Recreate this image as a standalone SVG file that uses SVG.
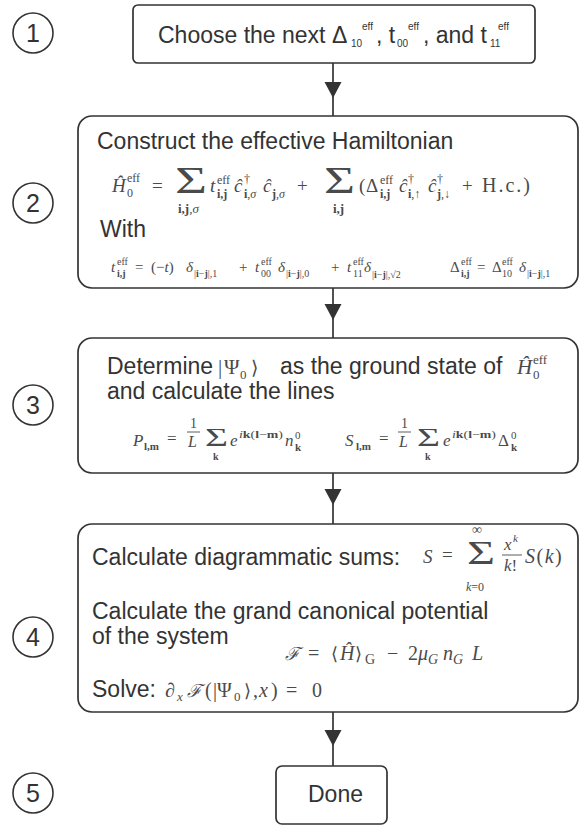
<svg xmlns="http://www.w3.org/2000/svg" width="582" height="826" viewBox="0 0 582 826">
<style>
.box{fill:#fff;stroke:#333;stroke-width:1.7}
.circ{fill:none;stroke:#333;stroke-width:1.6}
.num{font-family:"Liberation Sans",Arial,sans-serif;font-size:25px;fill:#333;text-anchor:middle}
.t{font-family:"Liberation Sans",Arial,sans-serif;font-size:23px;fill:#333}
.ts{font-family:"Liberation Sans",Arial,sans-serif;fill:#333}
.m{font-family:"Liberation Serif","Times New Roman",serif;fill:#4a4a4a}
.i{font-style:italic}
.b{font-weight:bold}
.con{stroke:#333;stroke-width:1.7;fill:none}
.ah{fill:#333}
.bar{stroke:#4a4a4a;stroke-width:0.9}
</style>
<defs>
<path id="arrow" class="ah" d="M-8.5,-16 L8.5,-16 L0,0 Z"/>
</defs>

<g id="connectors">
<line class="con" x1="333" y1="63" x2="333" y2="116"/>
<use href="#arrow" x="333" y="98"/>
<line class="con" x1="333" y1="288" x2="333" y2="338"/>
<use href="#arrow" x="333" y="320"/>
<line class="con" x1="333" y1="473" x2="333" y2="524"/>
<use href="#arrow" x="333" y="505"/>
<line class="con" x1="333" y1="712" x2="333" y2="766"/>
<use href="#arrow" x="333" y="746"/>
</g>

<g id="step-labels">
<circle class="circ" cx="33" cy="33" r="20"/><text class="num" x="33" y="42">1</text>
<circle class="circ" cx="33" cy="203" r="20"/><text class="num" x="33" y="212">2</text>
<circle class="circ" cx="33" cy="405" r="20"/><text class="num" x="33" y="414">3</text>
<circle class="circ" cx="33" cy="637" r="20"/><text class="num" x="33" y="646">4</text>
<circle class="circ" cx="33" cy="793" r="20"/><text class="num" x="33" y="802">5</text>
</g>

<g id="node1">
<rect class="box" x="133" y="5" width="402" height="58" rx="5"/>
<text class="t" x="158" y="43">Choose the next Δ</text>
<text class="ts" x="351" y="47" font-size="10">10</text>
<text class="ts" x="362" y="30" font-size="10">eff</text>
<text class="t" x="376" y="43">, t</text>
<text class="ts" x="397" y="47" font-size="10">00</text>
<text class="ts" x="408" y="30" font-size="10">eff</text>
<text class="t" x="423" y="43">, and t</text>
<text class="ts" x="490" y="47" font-size="10">11</text>
<text class="ts" x="498" y="30" font-size="10">eff</text>
</g>

<g id="node2">
<rect class="box" x="78" y="116" width="500" height="172" rx="14"/>
<text class="t" x="97" y="149">Construct the effective Hamiltonian</text>
<g class="m" font-size="19">
<text class="i" x="112" y="192">Ĥ</text>
<text x="127" y="197" font-size="12">0</text>
<text x="127" y="182" font-size="12">eff</text>
<text x="152" y="192">=</text>
<text x="175" y="193" font-size="37" textLength="32" lengthAdjust="spacingAndGlyphs">Σ</text>
<text x="178" y="213" font-size="13"><tspan class="b">i,j</tspan>,<tspan class="i">σ</tspan></text>
<text class="i" x="210" y="192">t</text>
<text x="217" y="184" font-size="12">eff</text>
<text class="b" x="217" y="198" font-size="12">i,j</text>
<text class="i" x="234" y="192">ĉ</text>
<text x="244" y="183" font-size="12">†</text>
<text x="244" y="198" font-size="12"><tspan class="b">i</tspan>,<tspan class="i">σ</tspan></text>
<text class="i" x="263" y="192">ĉ</text>
<text x="272" y="198" font-size="12"><tspan class="b">j</tspan>,<tspan class="i">σ</tspan></text>
<text x="297" y="192">+</text>
<text x="324" y="193" font-size="37" textLength="31" lengthAdjust="spacingAndGlyphs">Σ</text>
<text class="b" x="333" y="213" font-size="13">i,j</text>
<text x="359" y="192">(</text>
<text x="366" y="192">Δ</text>
<text x="380" y="184" font-size="12">eff</text>
<text class="b" x="380" y="198" font-size="12">i,j</text>
<text class="i" x="399" y="192">ĉ</text>
<text x="408" y="183" font-size="12">†</text>
<text x="408" y="198" font-size="12"><tspan class="b">i</tspan>,↑</text>
<text class="i" x="428" y="192">ĉ</text>
<text x="437" y="183" font-size="12">†</text>
<text x="437" y="198" font-size="12"><tspan class="b">j</tspan>,↓</text>
<text x="462" y="192">+</text>
<text x="482" y="192" font-size="20" letter-spacing="2">H.c.)</text>
</g>
<text class="t" x="100" y="237">With</text>
<g class="m" font-size="15">
<text class="i" x="111" y="272">t</text>
<text x="117" y="265" font-size="10">eff</text>
<text class="b" x="117" y="277" font-size="10">i,j</text>
<text x="135" y="272">=</text>
<text x="151" y="272">(−<tspan class="i">t</tspan>)</text>
<text class="i" x="186" y="272">δ</text>
<text x="194" y="277" font-size="10">|<tspan class="b">i</tspan>−<tspan class="b">j</tspan>|,1</text>
<text x="239" y="272">+</text>
<text class="i" x="255" y="272">t</text>
<text x="261" y="265" font-size="10">eff</text>
<text x="261" y="277" font-size="10">00</text>
<text class="i" x="278" y="272">δ</text>
<text x="286" y="277" font-size="10">|<tspan class="b">i</tspan>−<tspan class="b">j</tspan>|,0</text>
<text x="331" y="272">+</text>
<text class="i" x="347" y="272">t</text>
<text x="353" y="265" font-size="10">eff</text>
<text x="353" y="277" font-size="10">11</text>
<text class="i" x="364" y="272">δ</text>
<text x="372" y="278" font-size="10">|<tspan class="b">i</tspan>−<tspan class="b">j</tspan>|,√2</text>
<text x="450" y="272">Δ</text>
<text x="461" y="265" font-size="10">eff</text>
<text class="b" x="461" y="277" font-size="10">i,j</text>
<text x="477" y="272">=</text>
<text x="492" y="272">Δ</text>
<text x="502" y="265" font-size="10">eff</text>
<text x="502" y="277" font-size="10">10</text>
<text class="i" x="519" y="272">δ</text>
<text x="527" y="277" font-size="10">|<tspan class="b">i</tspan>−<tspan class="b">j</tspan>|,1</text>
</g>
</g>

<g id="node3">
<rect class="box" x="78" y="338" width="500" height="135" rx="14"/>
<text class="t" x="107" y="374">Determine</text>
<g class="m" font-size="21">
<text x="218" y="374">|</text>
<text x="224" y="374">Ψ</text>
<text x="240" y="379" font-size="13">0</text>
<text x="251" y="374" font-family="DejaVu Serif,serif" font-size="19">⟩</text>
</g>
<text class="t" x="280" y="374">as the ground state of</text>
<g class="m" font-size="21">
<text class="i" x="517" y="374">Ĥ</text>
<text x="533" y="379" font-size="13">0</text>
<text x="533" y="364" font-size="13">eff</text>
</g>
<text class="t" x="107" y="399">and calculate the lines</text>
<g class="m" font-size="17">
<text class="i" x="133" y="446">P</text>
<text class="b" x="144" y="450" font-size="11">l,m</text>
<text x="167" y="444">=</text>
<text x="190" y="428" font-size="14">1</text>
<line class="bar" x1="187" y1="432" x2="200" y2="432"/>
<text class="i" x="188" y="447" font-size="16">L</text>
<text x="205" y="446" font-size="26" textLength="23" lengthAdjust="spacingAndGlyphs">Σ</text>
<text class="b" x="213" y="460" font-size="10">k</text>
<text class="i" x="230" y="446">e</text>
<text x="239" y="438" font-size="11" textLength="44" lengthAdjust="spacingAndGlyphs"><tspan class="i">i</tspan><tspan class="b">k</tspan>(<tspan class="b">l</tspan>−<tspan class="b">m</tspan>)</text>
<text class="i" x="285" y="446">n</text>
<text x="295" y="439" font-size="11">0</text>
<text class="b" x="295" y="451" font-size="11">k</text>
<text class="i" x="345" y="446">S</text>
<text class="b" x="356" y="450" font-size="11">l,m</text>
<text x="379" y="444">=</text>
<text x="401" y="428" font-size="14">1</text>
<line class="bar" x1="398" y1="432" x2="411" y2="432"/>
<text class="i" x="399" y="447" font-size="16">L</text>
<text x="417" y="446" font-size="26" textLength="23" lengthAdjust="spacingAndGlyphs">Σ</text>
<text class="b" x="425" y="460" font-size="10">k</text>
<text class="i" x="443" y="446">e</text>
<text x="452" y="438" font-size="11" textLength="44" lengthAdjust="spacingAndGlyphs"><tspan class="i">i</tspan><tspan class="b">k</tspan>(<tspan class="b">l</tspan>−<tspan class="b">m</tspan>)</text>
<text x="498" y="446">Δ</text>
<text x="511" y="439" font-size="11">0</text>
<text class="b" x="511" y="451" font-size="11">k</text>
</g>
</g>

<g id="node4">
<rect class="box" x="78" y="524" width="500" height="188" rx="14"/>
<text class="t" x="92" y="565">Calculate diagrammatic sums:</text>
<g class="m" font-size="19">
<text class="i" x="423" y="563">S</text>
<text x="442" y="561">=</text>
<text x="467" y="564" font-size="33" textLength="28" lengthAdjust="spacingAndGlyphs">Σ</text>
<text x="472" y="534" font-size="14">∞</text>
<text x="466" y="591" font-size="12"><tspan class="i">k</tspan>=0</text>
<text class="i" x="504" y="550" font-size="17">x</text>
<text class="i" x="513" y="542" font-size="11">k</text>
<line class="bar" x1="502" y1="555" x2="522" y2="555"/>
<text x="504" y="571" font-size="17"><tspan class="i">k</tspan>!</text>
<text x="525" y="563" font-size="20" letter-spacing="1.5"><tspan class="i">S</tspan>(<tspan class="i">k</tspan>)</text>
</g>
<text class="t" x="92" y="619">Calculate the grand canonical potential</text>
<text class="t" x="92" y="644">of the system</text>
<g class="m" font-size="20">
<text class="i" x="285" y="660" font-family="DejaVu Serif,serif" font-size="18">ℱ</text>
<text x="308" y="660">=</text>
<text x="331" y="660" font-family="DejaVu Serif,serif" font-size="18">⟨</text>
<text class="i" x="340" y="660">Ĥ</text>
<text x="355" y="660" font-family="DejaVu Serif,serif" font-size="18">⟩</text>
<text x="365" y="664" font-size="14">G</text>
<text x="387" y="660">−</text>
<text x="408" y="660">2</text>
<text class="i" x="418" y="660">μ</text>
<text class="i" x="428" y="664" font-size="14">G</text>
<text class="i" x="443" y="660">n</text>
<text class="i" x="453" y="664" font-size="14">G</text>
<text class="i" x="472" y="660">L</text>
</g>
<text class="t" x="92" y="697">Solve:</text>
<g class="m" font-size="20">
<text class="i" x="165" y="697">∂</text>
<text class="i" x="177" y="701" font-size="13">x</text>
<text class="i" x="187" y="697" font-family="DejaVu Serif,serif" font-size="18">ℱ</text>
<text x="205" y="697">(</text>
<text x="213" y="697">|</text>
<text x="217" y="697">Ψ</text>
<text x="234" y="701" font-size="13">0</text>
<text x="244" y="697" font-family="DejaVu Serif,serif" font-size="18">⟩</text>
<text x="253" y="697">,</text>
<text class="i" x="259" y="697">x</text>
<text x="271" y="697">)</text>
<text x="286" y="697">=</text>
<text x="312" y="697">0</text>
</g>
</g>

<g id="node5">
<rect class="box" x="276" y="766" width="111" height="58" rx="6"/>
<text class="t" x="308" y="802">Done</text>
</g>
</svg>
